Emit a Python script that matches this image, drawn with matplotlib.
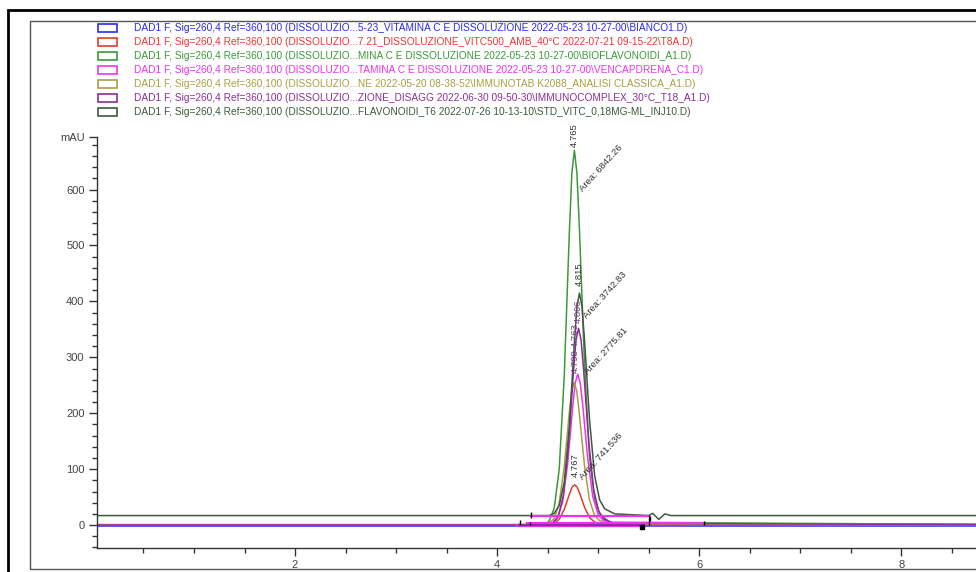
import matplotlib
matplotlib.use("Agg")
import matplotlib.pyplot as plt
from matplotlib.patches import Rectangle
from matplotlib.ticker import MultipleLocator

plt.rcParams['font.family'] = ['Liberation Sans', 'DejaVu Sans']

# legend entries (file names of the overlaid runs)
names = [
    r"DAD1 F, Sig=260,4 Ref=360,100 (DISSOLUZIO...5-23_VITAMINA C E DISSOLUZIONE 2022-05-23 10-27-00\BIANCO1.D)",
    r"DAD1 F, Sig=260,4 Ref=360,100 (DISSOLUZIO...7.21_DISSOLUZIONE_VITC500_AMB_40°C 2022-07-21 09-15-22\T8A.D)",
    r"DAD1 F, Sig=260,4 Ref=360,100 (DISSOLUZIO...MINA C E DISSOLUZIONE 2022-05-23 10-27-00\BIOFLAVONOIDI_A1.D)",
    r"DAD1 F, Sig=260,4 Ref=360,100 (DISSOLUZIO...TAMINA C E DISSOLUZIONE 2022-05-23 10-27-00\VENCAPDRENA_C1.D)",
    r"DAD1 F, Sig=260,4 Ref=360,100 (DISSOLUZIO...NE 2022-05-20 08-38-52\IMMUNOTAB K2088_ANALISI CLASSICA_A1.D)",
    r"DAD1 F, Sig=260,4 Ref=360,100 (DISSOLUZIO...ZIONE_DISAGG 2022-06-30 09-50-30\IMMUNOCOMPLEX_30°C_T18_A1.D)",
    r"DAD1 F, Sig=260,4 Ref=360,100 (DISSOLUZIO...FLAVONOIDI_T6 2022-07-26 10-13-10\STD_VITC_0,18MG-ML_INJ10.D)",
]
colors = ["#2b2bf0", "#e83a30", "#3a9a3a", "#ee33ee", "#a8a040", "#8e2e96", "#3e5a40"]

# traces: time (min) and signal (mAU)
bianco_t = [0.0, 10.0]
bianco_y = [-2, -2]

t8a_t = [0.0, 4.467, 4.517, 4.567, 4.617, 4.667, 4.717, 4.742, 4.767, 4.792, 4.817, 4.867, 4.917, 4.967, 5.017, 5.117, 10.0]
t8a_y = [0, 0, 0.7, 3, 11, 29, 56, 68, 72, 68, 57, 31, 13, 5, 2, 0.6, 0]

biofl_t = [0.0, 4.465, 4.515, 4.565, 4.615, 4.665, 4.715, 4.74, 4.765, 4.79, 4.815, 4.865, 4.915, 4.965, 5.015, 5.115, 10.0]
biofl_y = [0, 0, 7, 30, 100, 268, 523, 630, 670, 630, 529, 288, 121, 47, 20, 5, 0]

vencap_t = [0.0, 4.498, 4.548, 4.598, 4.648, 4.698, 4.748, 4.773, 4.798, 4.823, 4.848, 4.898, 4.948, 4.998, 5.048, 5.148, 10.0]
vencap_y = [1, 1, 4, 13, 41, 109, 211, 254, 270, 254, 214, 117, 50, 20, 9, 3, 1]

immtab_t = [0.0, 4.463, 4.513, 4.563, 4.613, 4.663, 4.713, 4.738, 4.763, 4.788, 4.813, 4.863, 4.913, 4.963, 5.013, 5.113, 10.0]
immtab_y = [0, 0, 3, 11, 38, 102, 199, 240, 255, 240, 201, 110, 46, 18, 8, 2, 0]

immcx_t = [0.0, 4.506, 4.556, 4.606, 4.656, 4.706, 4.756, 4.781, 4.806, 4.831, 4.856, 4.906, 4.956, 5.006, 5.056, 5.156, 10.0]
immcx_y = [0, 0, 4, 16, 53, 141, 275, 331, 352, 331, 278, 151, 63, 25, 11, 3, 0]

std_t = [0.0, 4.515, 4.565, 4.615, 4.665, 4.715, 4.765, 4.79, 4.815, 4.84, 4.865, 4.915, 4.965, 5.015, 5.065, 5.165,
         5.50, 5.54, 5.60, 5.66, 5.72, 10.0]
std_y = [17, 17, 21, 35, 77, 176, 327, 391, 415, 391, 331, 188, 89, 45, 29, 20, 17, 21, 10, 20, 17, 17]

traces = [
    (bianco_t, bianco_y),
    (t8a_t, t8a_y),
    (biofl_t, biofl_y),
    (vencap_t, vencap_y),
    (immtab_t, immtab_y),
    (immcx_t, immcx_y),
    (std_t, std_y),
]

# integration baselines: start, end, level, trace index
base_t0 = [4.20, 4.22, 4.34, 4.30, 4.22]
base_t1 = [5.45, 5.45, 5.50, 6.05, 5.45]
base_y = [0, -2, 16, 3, 1]
base_idx = [3, 3, 3, 3, 5]

# integration event marks: time, low, high
event_t = [4.23, 4.34, 4.33, 5.50, 5.51, 6.05]
event_lo = [0, 12, 0, 0, 8, 0]
event_hi = [9, 23, 6, 18, 16, 8]

# peak labels: x, y, text, rotation, colour
lab_x = [4.765, 4.83, 4.815, 4.87, 4.806, 4.778, 4.778, 4.88, 4.778, 4.83]
lab_y = [676, 598, 428, 372, 362, 272, 318, 272, 86, 84]
lab_s = ["4.765", "Area: 6842.26", "4.815", "Area: 3742.83", "4.806", "4.798", "4.763",
         "Area: 2775.81", "4.767", "Area: 741.536"]
lab_r = [90, 48, 90, 48, 90, 90, 90, 48, 90, 48]
lab_c = ["#333333", "#333333", "#333333", "#333333", "#7a3a8a", "#7a3a8a", "#7a3a8a",
         "#333333", "#333333", "#333333"]

fig = plt.figure(figsize=(9.76, 5.72), dpi=100)
fig.patch.set_facecolor("white")

# outer and inner frames of the report
fig.add_artist(Rectangle((8 / 976, -0.05), 1.2, 1 - 10 / 572 + 0.05, transform=fig.transFigure,
                         fill=False, edgecolor="black", lw=2))
fig.add_artist(Rectangle((30 / 976, 1 - 569 / 572), 1.2, (569 - 21) / 572, transform=fig.transFigure,
                         fill=False, edgecolor="#555555", lw=1))

ax = fig.add_axes([97 / 976, 1 - 548 / 572, 1.0, (548 - 137) / 572])

for (tt, yy), c in zip(traces, colors):
    ax.plot(tt, yy, color=c, lw=1.1)

for t0, t1, y, i in zip(base_t0, base_t1, base_y, base_idx):
    ax.plot([t0, t1], [y, y], color=colors[i], lw=1.6)

ax.vlines(event_t, event_lo, event_hi, color="black", lw=1.0)
ax.plot([5.43], [-4], marker="s", ms=3, color="black")

for x, y, s, r, c in zip(lab_x, lab_y, lab_s, lab_r, lab_c):
    ax.text(x, y, s, rotation=r, rotation_mode="anchor", ha="left", va="center",
            fontsize=6.8, color=c, clip_on=False)

ax.set_xlim(0.04, 9.7)
ax.set_ylim(-41, 694)
ax.spines["top"].set_visible(False)
ax.spines["right"].set_visible(False)
for s in ["left", "bottom"]:
    ax.spines[s].set_color("#333333")
    ax.spines[s].set_linewidth(1.0)

ax.set_xticks([2, 4, 6, 8])
ax.xaxis.set_minor_locator(MultipleLocator(0.5))
ax.set_yticks([0, 100, 200, 300, 400, 500, 600, 694])
ax.set_yticklabels(["0", "100", "200", "300", "400", "500", "600", "mAU"])
ax.yaxis.set_minor_locator(MultipleLocator(20))
ax.tick_params(which="major", length=6, width=1, color="#333333", labelsize=8,
               labelcolor="#444444", pad=3)
ax.tick_params(which="minor", length=3.5, width=1, color="#333333")

# legend drawn as in the instrument report
for i, (name, c) in enumerate(zip(names, colors)):
    yc = 1 - (27.7 + 14.1 * i) / 572
    fig.add_artist(Rectangle((98 / 976, yc - 4 / 572), 19 / 976, 8 / 572, transform=fig.transFigure,
                             fill=False, edgecolor=c, lw=1.2))
    fig.text(134 / 976, yc, name, color=c, fontsize=7.3, va="center", ha="left")

fig.savefig("out.png", dpi=100)
